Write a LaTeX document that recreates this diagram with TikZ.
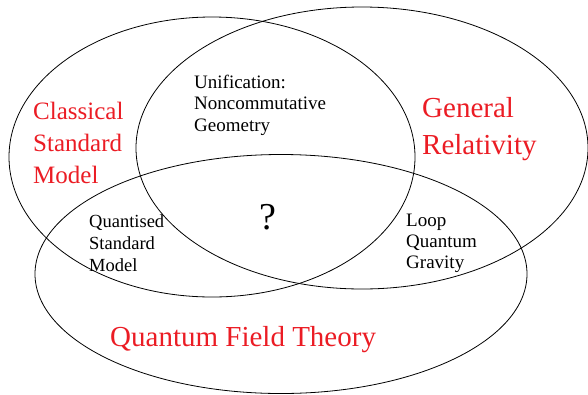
\documentclass[tikz,border=0pt]{standalone}
\usepackage{fontspec}
\setmainfont{Liberation Serif}
\definecolor{labelred}{RGB}{235,28,36}
\tikzset{
  setline/.style={line width=0.8pt, black},
  bigred/.style={text=labelred, align=left, inner sep=0pt, anchor=base west},
  smallblack/.style={text=black, align=left, inner sep=0pt, anchor=base west},
}
\begin{document}
\begin{tikzpicture}[x=1pt, y=-1pt]
\useasboundingbox (0,0) rectangle (588,394);
\coordinate (c1) at (212,157);
\coordinate (c2) at (362,148);
\coordinate (c3) at (281,274);
\draw[setline] (c1) ellipse [x radius=203, y radius=140];
\draw[setline] (c2) ellipse [x radius=226, y radius=141];
\draw[setline] (c3) ellipse [x radius=246, y radius=119.5];

\node[bigred, font=\fontsize{25}{32}\selectfont] (csm) at (33,183) {Classical\\Standard\\Model};
\node[bigred, font=\fontsize{29}{37}\selectfont] (gr) at (422,154) {General\\Relativity};
\node[bigred, font=\fontsize{29}{34}\selectfont] (qft) at (110,346) {Quantum Field Theory};

\node[smallblack, font=\fontsize{19}{21.5}\selectfont] (unif) at (194,131) {Unification:\\Noncommutative\\Geometry};
\node[smallblack, font=\fontsize{18.5}{22}\selectfont] (qsm) at (89,271) {Quantised\\Standard\\Model};
\node[smallblack, font=\fontsize{19}{21}\selectfont] (lqg) at (406,268) {Loop\\Quantum\\Gravity};
\node[text=black, inner sep=0pt, anchor=base, font=\fontsize{38}{40}\selectfont] (q) at (268,229) {?};
\end{tikzpicture}
\end{document}
